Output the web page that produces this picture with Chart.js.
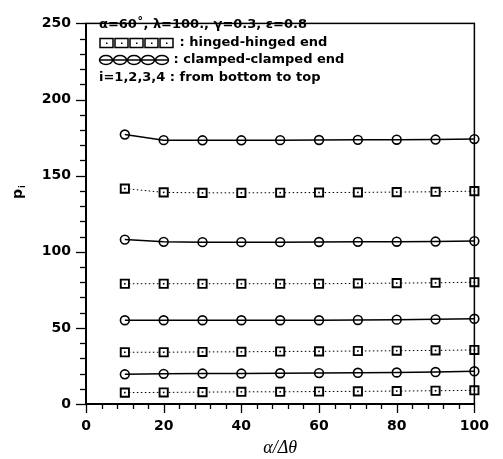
<!DOCTYPE html>
<html><head><meta charset="utf-8">
<script src="https://cdn.jsdelivr.net/npm/chart.js@4.4.0/dist/chart.umd.min.js"></script>
<style>html,body{margin:0;padding:0;background:#fff}</style>
</head><body>
<canvas id="c" width="503" height="459" style="display:block;width:503px;height:459px"></canvas>
<script>
// ---- data ----
const xValues = [10, 20, 30, 40, 50, 60, 70, 80, 90, 100];
const hinged1  = [7.5, 7.6, 7.8, 8.0, 8.0, 8.2, 8.3, 8.5, 8.7, 9.0];
const clamped1 = [19.5, 19.8, 20.0, 20.0, 20.2, 20.3, 20.5, 20.7, 21.0, 21.5];
const hinged2  = [34.0, 34.0, 34.2, 34.3, 34.5, 34.6, 34.8, 35.0, 35.2, 35.5];
const clamped2 = [55.0, 55.0, 55.0, 55.0, 55.0, 55.0, 55.2, 55.4, 55.6, 56.0];
const hinged3  = [79.0, 79.0, 79.0, 79.0, 79.0, 79.0, 79.2, 79.4, 79.6, 80.0];
const clamped3 = [108.0, 106.5, 106.3, 106.3, 106.3, 106.4, 106.5, 106.6, 106.7, 107.0];
const hinged4  = [141.5, 139.0, 138.7, 138.7, 138.8, 138.9, 139.0, 139.2, 139.4, 139.8];
const clamped4 = [177.0, 173.3, 173.2, 173.2, 173.3, 173.4, 173.5, 173.6, 173.7, 174.0];
const xLabelValues = [0, 20, 40, 60, 80, 100];
const yLabelValues = [0, 50, 100, 150, 200, 250];
const legendLines = ['\u03b1=60\u02da, \u03bb=100., \u03b3=0.3, \u03b5=0.8', ' : hinged-hinged end', ' : clamped-clamped end', 'i=1,2,3,4 : from bottom to top'];
const xTitle = '\u03b1/\u0394\u03b8';
const yTitle = ['p', 'i'];

// ---- chart ----
const pts = a => a.map((v, i) => ({x: xValues[i], y: v}));
const hingedStyle = {borderColor: '#000', borderWidth: 1, borderDash: [1.5, 2.5], pointStyle: 'rect', pointRadius: 5.8, pointBorderWidth: 1.9, pointBackgroundColor: '#fff', pointBorderColor: '#000', clip: false, tension: 0};
const clampedStyle = {borderColor: '#000', borderWidth: 1.5, pointStyle: 'circle', pointRadius: 4.4, pointBorderWidth: 1.6, pointBackgroundColor: 'rgba(0,0,0,0)', pointBorderColor: '#000', clip: false, tension: 0};
const datasets = [
  Object.assign({label: 'h1', data: pts(hinged1), kind: 'h'}, hingedStyle),
  Object.assign({label: 'c1', data: pts(clamped1), kind: 'c'}, clampedStyle),
  Object.assign({label: 'h2', data: pts(hinged2), kind: 'h'}, hingedStyle),
  Object.assign({label: 'c2', data: pts(clamped2), kind: 'c'}, clampedStyle),
  Object.assign({label: 'h3', data: pts(hinged3), kind: 'h'}, hingedStyle),
  Object.assign({label: 'c3', data: pts(clamped3), kind: 'c'}, clampedStyle),
  Object.assign({label: 'h4', data: pts(hinged4), kind: 'h'}, hingedStyle),
  Object.assign({label: 'c4', data: pts(clamped4), kind: 'c'}, clampedStyle)
];

const tickFont = {family: '"DejaVu Sans", sans-serif', size: 14, weight: 'bold'};

const decor = {
  id: 'decor',
  afterDatasetsDraw(chart) {
    const ctx = chart.ctx;
    ctx.save();
    ctx.fillStyle = '#000';
    chart.data.datasets.forEach((ds, i) => {
      if (ds.kind !== 'h') return;
      chart.getDatasetMeta(i).data.forEach(p => { ctx.fillRect(p.x - 0.8, p.y - 0.8, 1.6, 1.6); });
    });
    ctx.restore();
  },
  afterDraw(chart) {
    const {ctx, chartArea: a, scales: {x, y}} = chart;
    ctx.save();
    ctx.strokeStyle = '#000';
    ctx.lineWidth = 1.5;
    ctx.strokeRect(a.left, a.top, a.right - a.left, a.bottom - a.top);
    ctx.lineWidth = 2;
    ctx.beginPath(); ctx.moveTo(a.left, a.top); ctx.lineTo(a.left, a.bottom); ctx.lineTo(a.right, a.bottom); ctx.stroke();
    ctx.lineWidth = 1.3;
    y.ticks.forEach(t => {
      const py = Math.round(y.getPixelForValue(t.value)) + 0.5;
      const L = yLabelValues.includes(t.value) ? 10 : 6;
      ctx.beginPath(); ctx.moveTo(a.left - L, py); ctx.lineTo(a.left, py); ctx.stroke();
    });
    x.ticks.forEach(t => {
      const px = Math.round(x.getPixelForValue(t.value)) + 0.5;
      const L = xLabelValues.includes(t.value) ? 9 : 5;
      ctx.beginPath(); ctx.moveTo(px, a.bottom); ctx.lineTo(px, a.bottom + L); ctx.stroke();
    });
    // y title
    ctx.fillStyle = '#000';
    ctx.translate(22, 192);
    ctx.rotate(-Math.PI / 2);
    ctx.font = 'bold 14px "DejaVu Sans", sans-serif';
    ctx.textBaseline = 'alphabetic';
    ctx.textAlign = 'left';
    const pw = ctx.measureText(yTitle[0]).width;
    ctx.fillText(yTitle[0], -pw / 2 - 2, 0);
    ctx.font = 'bold 8px "DejaVu Sans", sans-serif';
    ctx.fillText(yTitle[1], pw / 2 - 1, 3);
    ctx.setTransform(1, 0, 0, 1, 0, 0);
    // legend block
    const lx = 99, ly = [25, 43, 60, 78];
    ctx.font = 'bold 13px "DejaVu Sans", sans-serif';
    ctx.textBaseline = 'middle';
    ctx.textAlign = 'left';
    ctx.fillText(legendLines[0], lx, ly[0]);
    ctx.lineWidth = 1.5;
    for (let k = 0; k < 5; k++) {
      const sx = lx + k * 15;
      ctx.strokeRect(sx + 1, ly[1] - 4.5, 13, 9);
      ctx.fillRect(sx + 7, ly[1] - 0.5, 1.5, 1.5);
    }
    ctx.fillText(legendLines[1], lx + 76, ly[1]);
    for (let k = 0; k < 5; k++) {
      const cx = lx + 7 + k * 14;
      ctx.beginPath(); ctx.ellipse(cx, ly[2], 6.5, 4.5, 0, 0, Math.PI * 2); ctx.stroke();
      ctx.beginPath(); ctx.moveTo(cx - 6.5, ly[2]); ctx.lineTo(cx + 6.5, ly[2]); ctx.stroke();
    }
    ctx.fillText(legendLines[2], lx + 70, ly[2]);
    ctx.fillText(legendLines[3], lx, ly[3]);
    ctx.restore();
  }
};

new Chart(document.getElementById('c'), {
  type: 'line',
  data: {datasets},
  options: {
    responsive: false,
    animation: false,
    devicePixelRatio: 1,
    layout: {padding: {left: 0, top: 13, right: 18, bottom: 0}},
    plugins: {legend: {display: false}, tooltip: {enabled: false}, title: {display: false}},
    scales: {
      x: {
        type: 'linear', min: 0, max: 100,
        afterFit(s) { s.height = 55; },
        afterBuildTicks(s) { s.ticks = []; for (let v = 0; v <= 100; v += 4) s.ticks.push({value: v}); },
        ticks: {autoSkip: false, maxRotation: 0, padding: 14, color: '#000', font: tickFont,
          callback: v => xLabelValues.includes(v) ? String(v) : ''},
        grid: {display: false, drawTicks: false},
        border: {display: false},
        title: {display: true, text: xTitle, color: '#000', padding: {top: 0, bottom: 0},
          font: {family: '"Liberation Serif", serif', size: 18, style: 'italic'}}
      },
      y: {
        type: 'linear', min: 0, max: 250,
        afterFit(s) { s.width = 86; },
        afterBuildTicks(s) { s.ticks = []; for (let v = 0; v <= 250; v += 10) s.ticks.push({value: v}); },
        ticks: {autoSkip: false, padding: 15, color: '#000', font: tickFont,
          callback: v => yLabelValues.includes(v) ? String(v) : ''},
        grid: {display: false, drawTicks: false},
        border: {display: false}
      }
    }
  },
  plugins: [decor]
});
</script>
</body></html>
